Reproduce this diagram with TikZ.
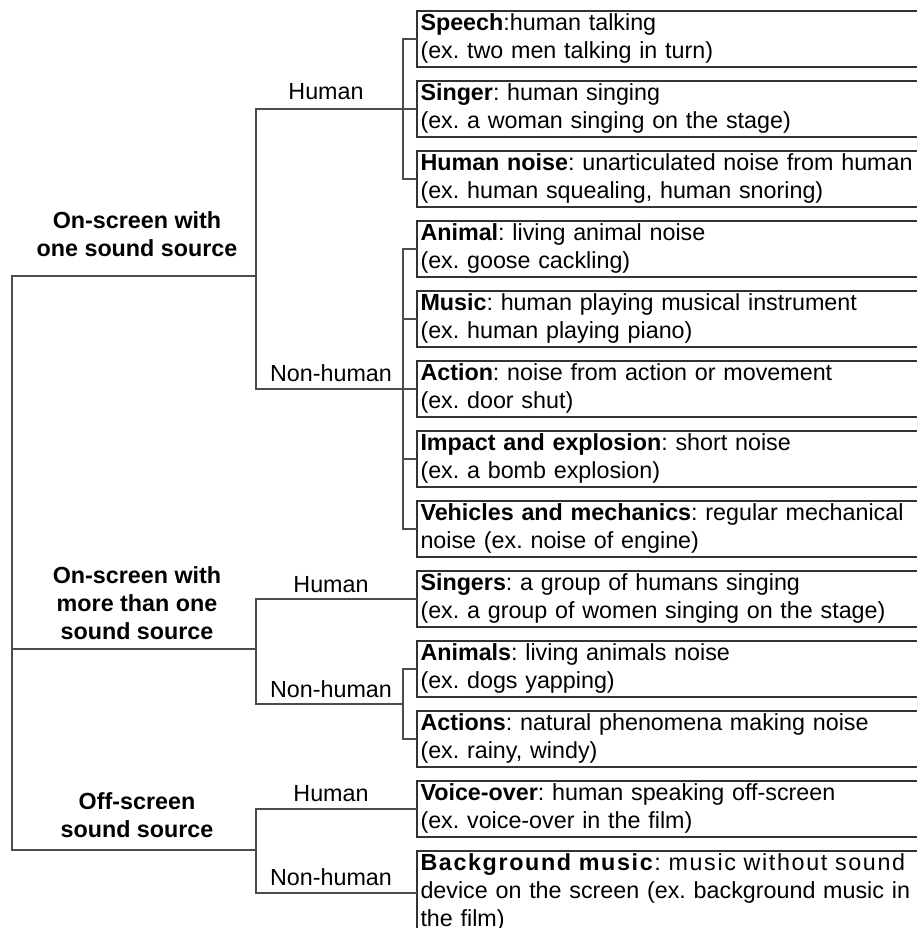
\documentclass[tikz,border=0pt]{standalone}
\usepackage{fontspec}
\setmainfont{Liberation Sans}
\usetikzlibrary{calc}
\frenchspacing
\begin{document}
\frenchspacing
\hbadness=10000
\begin{tikzpicture}[x=1pt,y=-1pt,
  conn/.style={draw=black!70, line width=1.8pt},
  box/.style={draw=black!80, line width=1.8pt, anchor=north west, outer sep=0pt,
    text width=520pt, inner xsep=3.5pt, inner ysep=0pt, minimum height=56pt,
    align=left, font=\fontsize{23.3}{28}\selectfont},
  lbl/.style={anchor=base, inner sep=0pt, font=\fontsize{23.3}{28}\selectfont},
  grp/.style={anchor=base, inner sep=0pt, align=center, font=\fontsize{23.3}{28}\selectfont\bfseries}]
\fill[white] (0,0) rectangle (916,928);
\useasboundingbox (0,0) rectangle (916,928);

% boxes
\node[box] (speech) at (417,11) {\strut\textbf{Speech}:human talking\\(ex. two men talking in turn)\strut};
\node[box] (singer) at (417,81) {\strut\textbf{Singer}: human singing\\(ex. a woman singing on the stage)\strut};
\node[box] (hnoise) at (417,151) {\strut\textbf{Human noise}: unarticulated noise from human\\(ex. human squealing, human snoring)\strut};
\node[box] (animal) at (417,221) {\strut\textbf{Animal}: living animal noise\\(ex. goose cackling)\strut};
\node[box] (music) at (417,291) {\strut\textbf{Music}: human playing musical instrument\\(ex. human playing piano)\strut};
\node[box] (action) at (417,361) {\strut\textbf{Action}: noise from action or movement\\(ex. door shut)\strut};
\node[box] (impact) at (417,431) {\strut\textbf{Impact and explosion}: short noise\\(ex. a bomb explosion)\strut};
\node[box] (vehicles) at (417,501) {\strut\textbf{Vehicles and mechanics}: regular mechanical\\noise (ex. noise of engine)\strut};
\node[box] (singers) at (417,571) {\strut\textbf{Singers}: a group of humans singing\\(ex. a group of women singing on the stage)\strut};
\node[box] (animals) at (417,641) {\strut\textbf{Animals}: living animals noise\\(ex. dogs yapping)\strut};
\node[box] (actions) at (417,711) {\strut\textbf{Actions}: natural phenomena making noise\\(ex. rainy, windy)\strut};
\node[box] (voice) at (417,781) {\strut\textbf{Voice-over}: human speaking off-screen\\(ex. voice-over in the film)\strut};
\node[box] (bg) at (417,851) {\leavevmode\strut\hbox to 494pt{\addfontfeature{LetterSpace=7}\textbf{Background music}: music without sound}\\\leavevmode\hbox to 494pt{device on the screen (ex. background music in}\\the film)\strut};

% labels
\node[lbl] (h1) at (326,100) {Human};
\node[lbl] (n1) at (331,381) {Non-human};
\node[lbl] (h2) at (331,592) {Human};
\node[lbl] (n2) at (331,697) {Non-human};
\node[lbl] (h3) at (331,801) {Human};
\node[lbl] (n3) at (331,885) {Non-human};

\node[grp] (o1) at (137,256) {On-screen with\\one sound source};
\node[grp] (o2) at (137,639) {On-screen with\\more than one\\sound source};
\node[grp] (o3) at (137,837) {Off-screen\\sound source};

% connectors
\coordinate (r1) at (12,276);
\coordinate (r2) at (12,649);
\coordinate (r3) at (12,850);
\coordinate (g1) at (256,276);
\coordinate (g2) at (256,649);
\coordinate (g3) at (256,850);
\draw[conn] (g1) -- (r1) -- (r3) -- (g3);
\draw[conn] (r2) -- (g2);

\draw[conn] (singer.west) -- (singer.west -| g1) -- (action.west -| g1) -- (action.west);
\draw[conn] (speech.west) -- ++(-14,0) |- (hnoise.west);
\draw[conn] (animal.west) -- ++(-14,0) |- (vehicles.west);
\foreach \n in {music,impact} \draw[conn] (\n.west) -- ++(-14,0);

\coordinate (nh2) at ($(animals.west)!0.5!(actions.west)+(-14,0)$);
\draw[conn] (singers.west) -- (singers.west -| g2) -- (nh2 -| g2) -- (nh2);
\draw[conn] (animals.west) -- ++(-14,0) |- (actions.west);

\draw[conn] (voice.west) -- (voice.west -| g3) -- (bg.west -| g3) -- (bg.west);
\end{tikzpicture}
\end{document}
